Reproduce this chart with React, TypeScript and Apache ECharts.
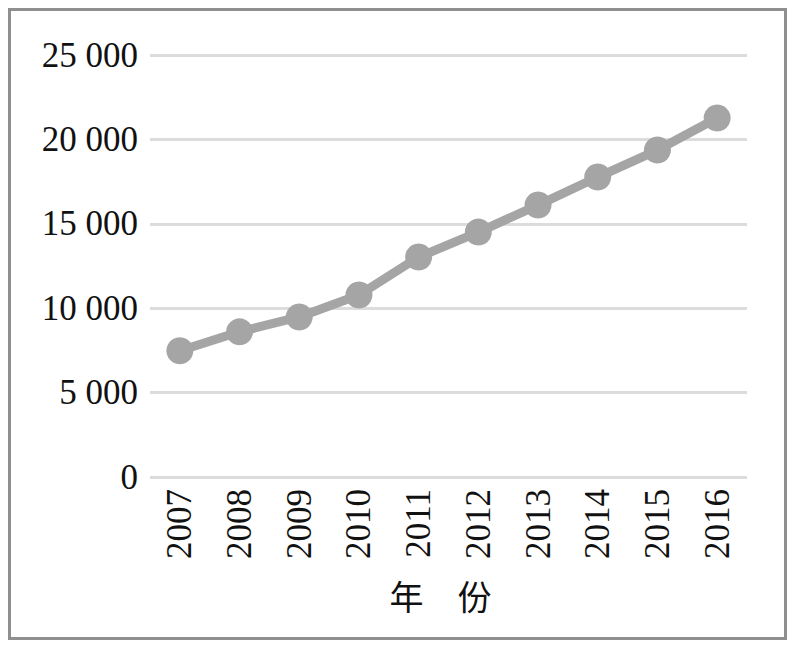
import React, { useEffect, useRef } from "react";
import * as echarts from "echarts";

const years = ["2007", "2008", "2009", "2010", "2011", "2012", "2013", "2014", "2015", "2016"];
const values = [7480, 8600, 9480, 10780, 13030, 14510, 16110, 17770, 19370, 21270];
const yTicks = [0, 5000, 10000, 15000, 20000, 25000];

export default function App() {
  const ref = useRef<HTMLDivElement>(null);
  useEffect(() => {
    if (!ref.current) return;
    const chart = echarts.init(ref.current, null, { renderer: "svg" });
    chart.setOption({
      animation: false,
      backgroundColor: "#ffffff",
      grid: { left: 139, right: 37, top: 44, bottom: 160 },
      xAxis: {
        type: "category",
        data: years,
        boundaryGap: true,
        name: "年　份",
        nameLocation: "middle",
        nameGap: 101,
        nameTextStyle: {
          fontFamily: "Noto Sans CJK SC",
          fontSize: 34,
          color: "#111",
          padding: [0, 16, 0, 0],
        },
        axisLine: { show: false },
        axisTick: { show: false },
        axisLabel: {
          rotate: 90,
          margin: 12,
          fontFamily: "Liberation Serif",
          fontSize: 35,
          color: "#111",
        },
      },
      yAxis: {
        type: "value",
        min: yTicks[0],
        max: yTicks[yTicks.length - 1],
        interval: 5000,
        axisLine: { show: false },
        axisTick: { show: false },
        splitLine: { lineStyle: { color: "#dcdcdc", width: 3 } },
        axisLabel: {
          margin: 12,
          fontFamily: "Liberation Serif",
          fontSize: 35,
          color: "#111",
          formatter: (v: number) => {
            if (v === 0) return "0";
            const th = Math.floor(v / 1000);
            const rest = String(v % 1000).padStart(3, "0");
            return th + " " + rest;
          },
        },
      },
      series: [
        {
          type: "line",
          data: values,
          symbol: "circle",
          symbolSize: 27,
          lineStyle: { color: "#a5a5a5", width: 9 },
          itemStyle: { color: "#a5a5a5" },
        },
      ],
    });
    return () => chart.dispose();
  }, []);
  return (
    <div
      style={{
        width: 779,
        height: 632,
        boxSizing: "border-box",
        border: "3px solid #8f8f8f",
        background: "#fff",
      }}
    >
      <div ref={ref} style={{ width: 773, height: 626 }} />
    </div>
  );
}
